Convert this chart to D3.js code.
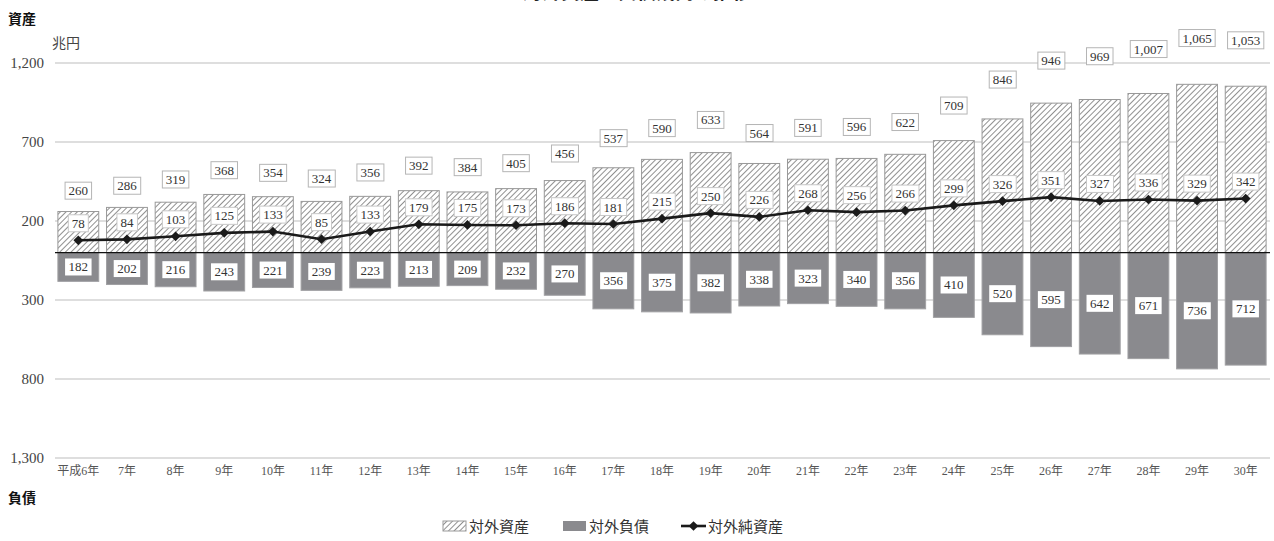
<!DOCTYPE html>
<html>
<head>
<meta charset="utf-8">
<script src="https://cdn.jsdelivr.net/npm/d3@7"></script>
<style>
  body { margin: 0; background: #fff; }
  svg { display: block; }
  .num { font-family: "Liberation Serif", "DejaVu Serif", serif; }
  .jp { font-family: "Noto Sans CJK JP", sans-serif; }
</style>
</head>
<body>
<div id="chart"></div>
<script>
const years = ['平成6年', '7年', '8年', '9年', '10年', '11年', '12年', '13年', '14年', '15年',
    '16年', '17年', '18年', '19年', '20年', '21年', '22年', '23年', '24年', '25年',
    '26年', '27年', '28年', '29年', '30年'];
const assets = [260, 286, 319, 368, 354, 324, 356, 392, 384, 405, 456, 537, 590, 633, 564,
    591, 596, 622, 709, 846, 946, 969, 1007, 1065, 1053];
const liabilities = [182, 202, 216, 243, 221, 239, 223, 213, 209, 232, 270, 356, 375, 382, 338,
    323, 340, 356, 410, 520, 595, 642, 671, 736, 712];
const netAssets = [78, 84, 103, 125, 133, 85, 133, 179, 175, 173, 186, 181, 215, 250, 226,
    268, 256, 266, 299, 326, 351, 327, 336, 329, 342];
const yTicks = [-1300, -800, -300, 200, 700, 1200];

const W = 1274, H = 541;
const svg = d3.select("#chart").append("svg")
    .attr("width", W)
    .attr("height", H);

// hatch pattern for assets
const defs = svg.append("defs");
const pat = defs.append("pattern")
    .attr("id", "hatch")
    .attr("patternUnits", "userSpaceOnUse")
    .attr("width", 4)
    .attr("height", 4)
    .attr("patternTransform", "rotate(45)");
pat.append("rect").attr("width", 4).attr("height", 4).attr("fill", "#fff");
pat.append("line")
    .attr("x1", 0).attr("y1", 0).attr("x2", 0).attr("y2", 4)
    .attr("stroke", "#7c7c7c")
    .attr("stroke-width", 1.7);

const x = d3.scaleBand()
    .domain(years)
    .range([54, 1270])
    .paddingInner(0.16)
    .paddingOuter(0.08);

const y = d3.scaleLinear()
    .domain([-1300, 1200])
    .range([458, 63]);

// title (mostly cut off at the top edge, as in the source)
svg.append("text")
    .attr("class", "jp")
    .attr("x", 637)
    .attr("y", -1)
    .attr("text-anchor", "middle")
    .attr("font-size", 19)
    .attr("font-weight", "bold")
    .attr("fill", "#222")
    .text("対外資産・負債残高の推移");

// gridlines
svg.append("g")
    .selectAll("line")
    .data(yTicks)
    .join("line")
    .attr("x1", 55)
    .attr("x2", 1270)
    .attr("y1", d => y(d))
    .attr("y2", d => y(d))
    .attr("stroke", "#d3d3d3")
    .attr("stroke-width", 1.5);

// y axis labels
const yAxis = svg.append("g")
    .attr("transform", "translate(50,0)")
    .call(d3.axisLeft(y).tickValues(yTicks).tickSize(0).tickPadding(6)
        .tickFormat(d => d3.format(",")(Math.abs(d))));
yAxis.select(".domain").remove();
yAxis.selectAll("text")
    .attr("class", "num")
    .attr("font-size", 15)
    .attr("fill", "#444");

// x axis labels
const xAxis = svg.append("g")
    .attr("transform", "translate(0,458)")
    .call(d3.axisBottom(x).tickSize(0).tickPadding(8));
xAxis.select(".domain").remove();
xAxis.selectAll("text")
    .attr("font-family", '"Liberation Serif", "Noto Sans CJK JP", serif')
    .attr("font-size", 12)
    .attr("fill", "#555");

// asset bars
svg.append("g")
    .selectAll("rect")
    .data(assets)
    .join("rect")
    .attr("x", (d, i) => x(years[i]))
    .attr("width", x.bandwidth())
    .attr("y", d => y(d))
    .attr("height", d => y(0) - y(d))
    .attr("fill", "url(#hatch)")
    .attr("stroke", "#999")
    .attr("stroke-width", 1);

// liability bars
svg.append("g")
    .selectAll("rect")
    .data(liabilities)
    .join("rect")
    .attr("x", (d, i) => x(years[i]))
    .attr("width", x.bandwidth())
    .attr("y", y(0))
    .attr("height", d => y(-d) - y(0))
    .attr("fill", "#8a8a8e")
    .attr("stroke", "#a0a0a3")
    .attr("stroke-width", 1);

// zero line
svg.append("line")
    .attr("x1", 55)
    .attr("x2", 1270)
    .attr("y1", y(0))
    .attr("y2", y(0))
    .attr("stroke", "#111")
    .attr("stroke-width", 1.2);

// net assets line
const cx = (d, i) => x(years[i]) + x.bandwidth() / 2;
svg.append("path")
    .datum(netAssets)
    .attr("fill", "none")
    .attr("stroke", "#1a1a1a")
    .attr("stroke-width", 2.6)
    .attr("d", d3.line().x(cx).y(d => y(d)));

svg.append("g")
    .selectAll("path")
    .data(netAssets)
    .join("path")
    .attr("transform", (d, i) => `translate(${cx(d, i)},${y(d)})`)
    .attr("d", d3.symbol(d3.symbolDiamond2, 60))
    .attr("fill", "#1a1a1a");

// boxed labels
function boxLabel(g, text, cxv, cyv, stroke) {
    const grp = g.append("g");
    const t = grp.append("text")
        .attr("class", "num")
        .attr("x", cxv)
        .attr("y", cyv)
        .attr("text-anchor", "middle")
        .attr("dominant-baseline", "central")
        .attr("font-size", 13)
        .attr("fill", "#333")
        .text(text);
    const bb = t.node().getBBox();
    grp.insert("rect", "text")
        .attr("x", bb.x - 3.5)
        .attr("y", cyv - 8.5)
        .attr("width", bb.width + 7)
        .attr("height", 17)
        .attr("fill", "#fff")
        .attr("stroke", stroke)
        .attr("stroke-width", 1);
}

const labels = svg.append("g");
const fmt = d3.format(",");
assets.forEach((d, i) => boxLabel(labels, fmt(d), cx(d, i), y(d * 1.2 + 80), "#b5b5b5"));
netAssets.forEach((d, i) => boxLabel(labels, fmt(d), cx(d, i), y(d) - 17, "#c8c8c8"));
liabilities.forEach((d, i) => boxLabel(labels, fmt(d), cx(d, i), y(-d / 2), "none"));

// axis captions
svg.append("text")
    .attr("class", "jp")
    .attr("x", 8).attr("y", 24)
    .attr("font-size", 14)
    .attr("font-weight", "bold")
    .attr("fill", "#111")
    .text("資産");
svg.append("text")
    .attr("class", "jp")
    .attr("x", 52).attr("y", 48)
    .attr("font-size", 14)
    .attr("fill", "#444")
    .text("兆円");
svg.append("text")
    .attr("class", "jp")
    .attr("x", 8).attr("y", 503)
    .attr("font-size", 14)
    .attr("font-weight", "bold")
    .attr("fill", "#111")
    .text("負債");

// legend
const lg = svg.append("g").attr("class", "jp").attr("font-size", 15).attr("fill", "#333");
lg.append("rect")
    .attr("x", 443).attr("y", 521).attr("width", 23).attr("height", 10)
    .attr("fill", "url(#hatch)").attr("stroke", "#9a9a9a");
lg.append("text").attr("x", 469).attr("y", 532).text("対外資産");
lg.append("rect")
    .attr("x", 563).attr("y", 521).attr("width", 23).attr("height", 10)
    .attr("fill", "#8a8a8e");
lg.append("text").attr("x", 589).attr("y", 532).text("対外負債");
lg.append("line")
    .attr("x1", 681).attr("x2", 706).attr("y1", 526).attr("y2", 526)
    .attr("stroke", "#1a1a1a").attr("stroke-width", 2.6);
lg.append("path")
    .attr("transform", "translate(693.5,526)")
    .attr("d", d3.symbol(d3.symbolDiamond2, 60))
    .attr("fill", "#1a1a1a");
lg.append("text").attr("x", 708).attr("y", 532).text("対外純資産");
</script>
</body>
</html>
